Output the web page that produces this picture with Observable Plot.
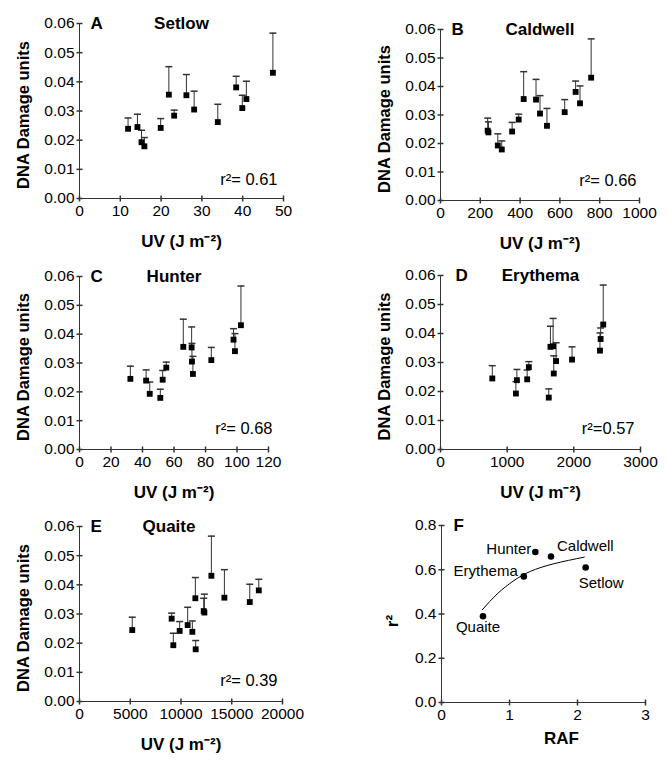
<!DOCTYPE html>
<html><head><meta charset="utf-8">
<script src="https://cdn.jsdelivr.net/npm/d3@7"></script>
<script src="https://cdn.jsdelivr.net/npm/@observablehq/plot@0.6"></script>
<style>
body{margin:0;background:#fff;}
#fig{position:relative;width:668px;height:768px;background:#fff;overflow:hidden;}
#fig > svg{position:absolute;}
</style></head><body><div id="fig"></div>
<script>
// ---- data: 14 samples, DNA damage (mean) and top of error bar ----
const sampleDamage = [0.0239, 0.0245, 0.0193, 0.0179, 0.0242, 0.0356, 0.0284, 0.0354, 0.0305, 0.0262, 0.0381, 0.0310, 0.0341, 0.0431];
const sampleUpper  = [0.0276, 0.0289, 0.0234, 0.0209, 0.0274, 0.0452, 0.0303, 0.0425, 0.0368, 0.0323, 0.0419, 0.0354, 0.0402, 0.0567];
// weighted UV dose (J m-2) per sample for each action spectrum
const uvSetlow   = [11.9, 14.2, 15.2, 15.9, 19.9, 21.9, 23.2, 26.2, 28.1, 33.9, 38.4, 39.9, 40.9, 47.4];
const uvCaldwell = [241, 237, 288, 308, 360, 418, 393, 480, 500, 535, 679, 624, 701, 757];
const uvHunter   = [42.3, 32.3, 44.6, 51.3, 52.8, 65.9, 55.1, 71.2, 71.4, 72.0, 97.8, 83.7, 98.7, 102.5];
const uvErythema = [1146, 777, 1131, 1624, 1300, 1689, 1325, 1649, 1734, 1699, 2402, 1973, 2392, 2441];
const uvQuaite   = [11118, 5197, 9243, 11447, 9868, 14276, 9079, 11414, 12303, 10658, 17664, 12237, 16776, 12993];
// tick labels
const damageTicks = [0, 0.01, 0.02, 0.03, 0.04, 0.05, 0.06];
const setlowTicks = [0, 10, 20, 30, 40, 50];
const caldwellTicks = [0, 200, 400, 600, 800, 1000];
const hunterTicks = [0, 20, 40, 60, 80, 100, 120];
const erythemaTicks = [0, 1000, 2000, 3000];
const quaiteTicks = [0, 5000, 10000, 15000, 20000];
const rafTicks = [0, 1, 2, 3];
const r2Ticks = [0, 0.2, 0.4, 0.6, 0.8];
// panel F
const spectrumNames = ["Quaite", "Erythema", "Hunter", "Caldwell", "Setlow"];
const spectrumRAF = [0.61, 1.21, 1.38, 1.61, 2.12];
const spectrumR2 = [0.39, 0.57, 0.68, 0.66, 0.61];
const fitRAF = [0.60, 0.82, 1.065, 1.31, 1.65, 2.10];
const fitR2 = [0.419, 0.491, 0.551, 0.593, 0.627, 0.657];

// ---- styling ----
const FONT = '"Liberation Sans", Arial, Helvetica, sans-serif';
const AX = "#333";
const TICKFONT = 15.5;
const hTick = {draw(ctx){ctx.moveTo(-3,0);ctx.lineTo(3,0);}};
const vTick = {draw(ctx){ctx.moveTo(0,-3);ctx.lineTo(0,3);}};
const capSym = {draw(ctx){ctx.moveTo(-3.5,0);ctx.lineTo(3.5,0);}};
const baseStyle = {fontFamily: FONT, fontSize: TICKFONT + "px", color: "#000", background: "transparent", overflow: "visible"};

function axesMarks(xTicks, yTicks, yFmt) {
  return [
    Plot.ruleX([xTicks[0]], {stroke: AX}),
    Plot.ruleY([yTicks[0]], {stroke: AX}),
    Plot.dot(yTicks, {x: () => xTicks[0], y: d => d, symbol: hTick, stroke: AX, fill: "none", r: 3}),
    Plot.dot(xTicks, {x: d => d, y: () => yTicks[0], symbol: vTick, stroke: AX, fill: "none", r: 3}),
    Plot.axisY({ticks: yTicks, tickSize: 0, tickPadding: 5, tickFormat: yFmt, label: null, fontSize: TICKFONT}),
    Plot.axisX({ticks: xTicks, tickSize: 0, tickPadding: 6, tickFormat: d3.format("d"), label: null, fontSize: TICKFONT})
  ];
}

function damagePanel(c) {
  const idx = d3.range(sampleDamage.length);
  const uv = c.uv;
  return Plot.plot({
    width: c.width, height: c.height,
    marginTop: c.mt, marginRight: c.mr, marginBottom: c.mb, marginLeft: c.ml,
    style: baseStyle,
    x: {domain: [c.xTicks[0], c.xTicks[c.xTicks.length - 1]], axis: null},
    y: {domain: [0, 0.06], axis: null},
    marks: [
      ...axesMarks(c.xTicks, damageTicks, d3.format(".2f")),
      Plot.ruleX(idx, {x: i => uv[i], y1: i => sampleDamage[i], y2: i => sampleUpper[i], stroke: "#333", strokeWidth: 1}),
      Plot.dot(idx, {x: i => uv[i], y: i => sampleUpper[i], symbol: capSym, stroke: "#333", fill: "none", r: 3}),
      Plot.dot(idx, {x: i => uv[i], y: i => sampleDamage[i], symbol: "square", fill: "#000", stroke: "none", r: 3.3}),
      Plot.text([c.letter], {text: d => d, frameAnchor: "top-left", textAnchor: "start", lineAnchor: "middle", dx: c.letterDx, fontWeight: "bold", fontSize: 17}),
      Plot.text([c.title], {text: d => d, frameAnchor: "top", textAnchor: "middle", lineAnchor: "middle", dx: c.titleDx || 0, fontWeight: "bold", fontSize: 17}),
      Plot.text([c.r2], {text: d => d, frameAnchor: "bottom-right", textAnchor: "end", lineAnchor: "bottom", dx: c.r2dx, dy: c.r2dy, fontSize: 16.5}),
      Plot.text(["DNA Damage units"], {text: d => d, frameAnchor: "left", textAnchor: "middle", lineAnchor: "middle", rotate: -90, dx: -56, dy: 4, fontWeight: "bold", fontSize: 16.5}),
      Plot.text(["UV (J m\u207B\u00B2)"], {text: d => d, frameAnchor: "bottom", textAnchor: "middle", lineAnchor: "middle", dy: 43, fontWeight: "bold", fontSize: 17})
    ]
  });
}

const labelPlacement = {
  Quaite:   {dx: -5, dy: 11, textAnchor: "middle"},
  Erythema: {dx: -6, dy: -5, textAnchor: "end"},
  Hunter:   {dx: -4, dy: -3, textAnchor: "end"},
  Caldwell: {dx: 6,  dy: -10, textAnchor: "start"},
  Setlow:   {dx: -7, dy: 16, textAnchor: "start"}
};

function rafPanel(c) {
  const idx = d3.range(spectrumNames.length);
  const fitIdx = d3.range(fitRAF.length);
  return Plot.plot({
    width: c.width, height: c.height,
    marginTop: c.mt, marginRight: c.mr, marginBottom: c.mb, marginLeft: c.ml,
    style: baseStyle,
    x: {domain: [0, 3], axis: null},
    y: {domain: [0, 0.8], axis: null},
    marks: [
      ...axesMarks(rafTicks, r2Ticks, d3.format(".1f")),
      Plot.line(fitIdx, {x: i => fitRAF[i], y: i => fitR2[i], curve: "natural", stroke: "#000", strokeWidth: 1}),
      Plot.dot(idx, {x: i => spectrumRAF[i], y: i => spectrumR2[i], r: 3.3, fill: "#000", stroke: "none"}),
      ...spectrumNames.map((n, i) => Plot.text([i], {
        x: j => spectrumRAF[j], y: j => spectrumR2[j], text: j => spectrumNames[j],
        dx: labelPlacement[n].dx, dy: labelPlacement[n].dy, textAnchor: labelPlacement[n].textAnchor,
        fontSize: 15
      })),
      Plot.text(["F"], {text: d => d, frameAnchor: "top-left", textAnchor: "start", lineAnchor: "middle", dx: 12, fontWeight: "bold", fontSize: 17}),
      Plot.text(["r\u00B2"], {text: d => d, frameAnchor: "left", textAnchor: "middle", lineAnchor: "middle", rotate: -90, dx: -49, dy: 7, fontWeight: "bold", fontSize: 17}),
      Plot.text(["RAF"], {text: d => d, frameAnchor: "bottom", textAnchor: "middle", lineAnchor: "middle", dx: 18, dy: 36, fontWeight: "bold", fontSize: 17})
    ]
  });
}

const fig = document.getElementById("fig");
function place(svg, left, top) {
  svg.style.left = left + "px";
  svg.style.top = top + "px";
  fig.appendChild(svg);
}

place(damagePanel({uv: uvSetlow, xTicks: setlowTicks, letter: "A", title: "Setlow", letterDx: 11, r2: "r\u00B2= 0.61", r2dx: -6, r2dy: -14,
  width: 334, height: 250, mt: 23, mr: 51, mb: 52, ml: 79}), 0, 0);
place(damagePanel({uv: uvCaldwell, xTicks: caldwellTicks, letter: "B", title: "Caldwell", letterDx: 11, r2: "r\u00B2= 0.66", r2dx: -3, r2dy: -15,
  width: 334, height: 250, mt: 29, mr: 29, mb: 50, ml: 106}), 334, 0);
place(damagePanel({uv: uvHunter, xTicks: hunterTicks, letter: "C", title: "Hunter", letterDx: 11, r2: "r\u00B2= 0.68", r2dx: 4, r2dy: -16,
  width: 334, height: 250, mt: 26, mr: 66, mb: 51, ml: 79}), 0, 250);
place(damagePanel({uv: uvErythema, xTicks: erythemaTicks, letter: "D", title: "Erythema", letterDx: 15, r2: "r\u00B2=0.57", r2dx: -6, r2dy: -16,
  width: 334, height: 250, mt: 25, mr: 28, mb: 51, ml: 106}), 334, 250);
place(damagePanel({uv: uvQuaite, xTicks: quaiteTicks, letter: "E", title: "Quaite", titleDx: -12, letterDx: 11, r2: "r\u00B2= 0.39", r2dx: -5, r2dy: -16,
  width: 334, height: 268, mt: 26, mr: 52, mb: 67, ml: 79}), 0, 500);
place(rafPanel({width: 334, height: 268, mt: 25, mr: 23, mb: 66, ml: 107}), 334, 500);
</script></body></html>
